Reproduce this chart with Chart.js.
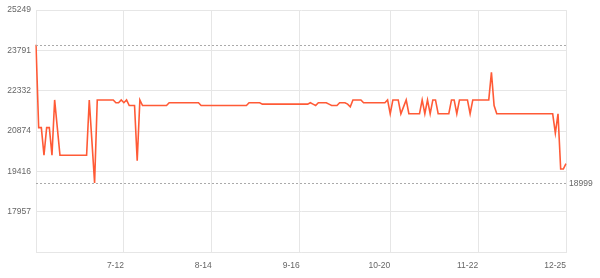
<!DOCTYPE html>
<html>
<head>
<meta charset="utf-8">
<script src="https://cdn.jsdelivr.net/npm/chart.js@4"></script>
<style>
  html, body { margin: 0; padding: 0; background: #fff; }
  #wrap { width: 600px; height: 278px; }
</style>
</head>
<body>
<div id="wrap"><canvas id="priceChart"></canvas></div>
<script>
// daily categories, 6-09 .. 12-25
const startDay = new Date(2023, 5, 9);
const dayCount = 200;
const dates = [];
for (let i = 0; i < dayCount; i++) {
    const d = new Date(startDay.getFullYear(), startDay.getMonth(), startDay.getDate() + i);
    dates.push((d.getMonth() + 1) + '-' + String(d.getDate()).padStart(2, '0'));
}

// only these dates get a label + vertical grid line
const xTickLabels = ['7-12', '8-14', '9-16', '10-20', '11-22', '12-25'];

// y axis ticks (bottom one has no label)
const yTickValues = [16499, 17957, 19416, 20874, 22332, 23791, 25249];

// max / min marker lines
const maxPrice = 23999;
const minPrice = 18999;

// price per day
const prices = [
    23999, 20999, 20999, 19999, 20999, 20999, 19999, 21999, 20999, 19999,
    19999, 19999, 19999, 19999, 19999, 19999, 19999, 19999, 19999, 19999,
    21999, 20499, 18999, 21999, 21999, 21999, 21999, 21999, 21999, 21999,
    21899, 21899, 21999, 21899, 21999, 21799, 21799, 21799, 19799, 21999,
    21799, 21799, 21799, 21799, 21799, 21799, 21799, 21799, 21799, 21799,
    21899, 21899, 21899, 21899, 21899, 21899, 21899, 21899, 21899, 21899,
    21899, 21899, 21799, 21799, 21799, 21799, 21799, 21799, 21799, 21799,
    21799, 21799, 21799, 21799, 21799, 21799, 21799, 21799, 21799, 21799,
    21899, 21899, 21899, 21899, 21899, 21849, 21849, 21849, 21849, 21849,
    21849, 21849, 21849, 21849, 21849, 21849, 21849, 21849, 21849, 21849,
    21849, 21849, 21849, 21899, 21849, 21799, 21899, 21899, 21899, 21899,
    21849, 21799, 21799, 21799, 21899, 21899, 21899, 21849, 21749, 21999,
    21999, 21999, 21999, 21899, 21899, 21899, 21899, 21899, 21899, 21899,
    21899, 21899, 21999, 21499, 21999, 21999, 21999, 21499, 21749, 21999,
    21499, 21499, 21499, 21499, 21499, 21999, 21499, 21999, 21499, 21999,
    21999, 21499, 21499, 21499, 21499, 21499, 21999, 21999, 21499, 21999,
    21999, 21999, 21999, 21499, 21999, 21999, 21999, 21999, 21999, 21999,
    21999, 22999, 21799, 21499, 21499, 21499, 21499, 21499, 21499, 21499,
    21499, 21499, 21499, 21499, 21499, 21499, 21499, 21499, 21499, 21499,
    21499, 21499, 21499, 21499, 21499, 20799, 21499, 19499, 19499, 19699
];

const textColor = '#666';
const gridColor = '#e6e6e6';

// dotted max/min lines, min value printed at the right
const markLinesPlugin = {
    id: 'markLines',
    afterDatasetsDraw(chart) {
        const { ctx, chartArea } = chart;
        const y = chart.scales.y;
        ctx.save();
        ctx.strokeStyle = '#aaa';
        ctx.lineWidth = 1;
        ctx.setLineDash([2, 2]);
        [maxPrice, minPrice].forEach(v => {
            const py = Math.round(y.getPixelForValue(v)) + 0.5;
            ctx.beginPath();
            ctx.moveTo(chartArea.left, py);
            ctx.lineTo(chartArea.right, py);
            ctx.stroke();
        });
        ctx.setLineDash([]);
        ctx.fillStyle = textColor;
        ctx.font = '8.5px "Liberation Sans", Arial, sans-serif';
        ctx.textBaseline = 'middle';
        ctx.textAlign = 'left';
        ctx.fillText(String(minPrice), chartArea.right + 3, y.getPixelForValue(minPrice) + 1);
        ctx.restore();
    }
};

new Chart(document.getElementById('priceChart'), {
    type: 'line',
    data: {
        labels: dates,
        datasets: [{
            data: prices,
            borderColor: '#ff5a36',
            borderWidth: 1.6,
            pointRadius: 0,
            tension: 0,
            fill: false
        }]
    },
    options: {
        responsive: true,
        maintainAspectRatio: false,
        animation: false,
        layout: { padding: { top: 9, right: 34, left: 0, bottom: 0 } },
        plugins: {
            legend: { display: false },
            tooltip: { enabled: false }
        },
        scales: {
            x: {
                afterBuildTicks: axis => {
                    axis.ticks = axis.ticks.filter(t => xTickLabels.includes(dates[t.value]));
                },
                afterFit: axis => { axis.height = 26; },
                grid: { color: gridColor, drawTicks: false },
                border: { color: gridColor },
                ticks: {
                    autoSkip: false,
                    maxRotation: 0,
                    align: 'end',
                    padding: 9,
                    color: textColor,
                    font: { size: 8.5, family: '"Liberation Sans", Arial, sans-serif' }
                }
            },
            y: {
                min: yTickValues[0],
                max: yTickValues[yTickValues.length - 1],
                afterBuildTicks: axis => {
                    axis.ticks = yTickValues.map(v => ({ value: v }));
                },
                afterFit: axis => { axis.width = 36; },
                grid: { color: gridColor, drawTicks: false },
                border: { color: gridColor },
                ticks: {
                    padding: 5,
                    color: textColor,
                    font: { size: 8.5, family: '"Liberation Sans", Arial, sans-serif' },
                    callback: v => (v === yTickValues[0] ? '' : String(v))
                }
            }
        }
    },
    plugins: [markLinesPlugin]
});
</script>
</body>
</html>
